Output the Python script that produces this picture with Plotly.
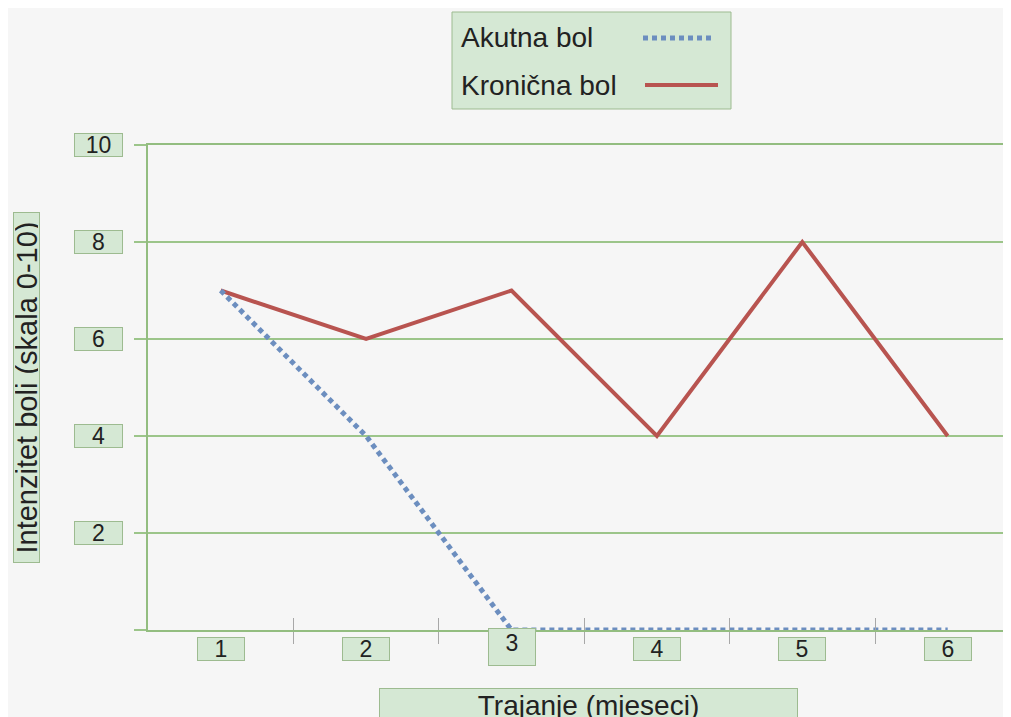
import plotly.graph_objects as go

# ---- data ----
months = [1, 2, 3, 4, 5, 6]
month_labels = ["1", "2", "3", "4", "5", "6"]
acute_pain = [7, 4, 0, 0, 0, 0]
chronic_pain = [7, 6, 7, 4, 8, 4]
y_tick_vals = [2, 4, 6, 8, 10]
y_tick_labels = ["2", "4", "6", "8", "10"]
x_boundaries = [1.5, 2.5, 3.5, 4.5, 5.5]
series_names = ["Akutna bol", "Kronična bol"]
x_title = "Trajanje (mjeseci)"
y_title = "Intenzitet boli (skala 0-10)"

# ---- style ----
BG = "#f6f6f6"
BOX_FILL = "#d5e8d4"
BOX_LINE = "#9dbb90"
GRID = "#9cc58a"
AXIS = "#93bd80"
RED = "#b85450"
BLUE = "#6c8ebf"
TXT = "#222222"
FONT = "Liberation Sans, Arial, sans-serif"

OFF = 8  # page body margin
W, H = 1011 - OFF, 717 - OFF
L, T = 148 - OFF, 145 - OFF
PLOT_BOTTOM = 630 - OFF
B = H - PLOT_BOTTOM
PW = W - L
PH = H - T - B


def px_x(px):
    return (px - OFF - L) / PW


def px_y(py):
    return (PLOT_BOTTOM - (py - OFF)) / PH


fig = go.Figure()
fig.add_trace(go.Scatter(
    x=months, y=chronic_pain, mode="lines", name=series_names[1],
    line=dict(color=RED, width=4), showlegend=False, cliponaxis=False))
fig.add_trace(go.Scatter(
    x=months, y=acute_pain, mode="lines", name=series_names[0],
    line=dict(color=BLUE, width=5, dash="5px,4px"), showlegend=False,
    cliponaxis=False))
# overlay axis for the inside half of the crossing ticks
fig.add_trace(go.Scatter(x=[months[0]], y=[0], xaxis="x2", mode="markers",
                         marker=dict(opacity=0), showlegend=False,
                         hoverinfo="skip"))

annotations = []
# y tick label boxes
for v, lab in zip(y_tick_vals, y_tick_labels):
    annotations.append(dict(
        x=0, xref="paper", y=v, yref="y", xanchor="right", yanchor="middle",
        xshift=-25, text=lab, showarrow=False, width=45, height=20,
        bgcolor=BOX_FILL, bordercolor=BOX_LINE, borderwidth=1, borderpad=1,
        font=dict(family=FONT, size=23, color=TXT)))
# x tick label boxes
for m, lab in zip(months, month_labels):
    tall = (lab == "3")
    annotations.append(dict(
        x=m, xref="x", y=0, yref="paper", xanchor="center", yanchor="top",
        yshift=2 if tall else -7, text=lab, showarrow=False, width=44,
        height=34 if tall else 20, valign="top" if tall else "middle",
        bgcolor=BOX_FILL, bordercolor=BOX_LINE, borderwidth=1, borderpad=1,
        font=dict(family=FONT, size=23, color=TXT)))
# axis titles
annotations.append(dict(
    x=px_x(588), xref="paper", y=0, yref="paper", xanchor="center",
    yanchor="top", yshift=-58, text=x_title, showarrow=False, width=415,
    height=34, valign="top", bgcolor=BOX_FILL, bordercolor=BOX_LINE,
    borderwidth=1, borderpad=1, font=dict(family=FONT, size=28, color=TXT)))
annotations.append(dict(
    x=px_x(26.5), xref="paper", y=px_y(387.5), yref="paper", xanchor="center",
    yanchor="middle", text=y_title, textangle=-90,
    showarrow=False, width=347, height=23, bgcolor=BOX_FILL,
    bordercolor=BOX_LINE, borderwidth=1, borderpad=1,
    font=dict(family=FONT, size=29, color=TXT)))
# custom legend texts
legend_y = [px_y(38), px_y(85)]
for name, ly in zip(series_names, legend_y):
    annotations.append(dict(
        x=px_x(459), xref="paper", y=ly, yref="paper", xanchor="left",
        yanchor="middle", text=name, showarrow=False,
        font=dict(family=FONT, size=28, color=TXT)))

shapes = [
    dict(type="rect", xref="paper", yref="paper", x0=px_x(452), x1=px_x(731),
         y0=px_y(109), y1=px_y(12), fillcolor=BOX_FILL,
         line=dict(color=BOX_LINE, width=1), layer="below"),
    dict(type="line", xref="paper", yref="paper", x0=px_x(643), x1=px_x(714),
         y0=legend_y[0], y1=legend_y[0],
         line=dict(color=BLUE, width=5, dash="5px,4px")),
    dict(type="line", xref="paper", yref="paper", x0=px_x(645), x1=px_x(718),
         y0=legend_y[1], y1=legend_y[1], line=dict(color=RED, width=4)),
]

XR = [0.5, 0.5 + (W - L) / 145.4]

fig.update_layout(
    width=W, height=H,
    margin=dict(l=L, r=0, t=T, b=B, pad=0),
    paper_bgcolor=BG, plot_bgcolor=BG,
    showlegend=False,
    font=dict(family=FONT, color=TXT),
    xaxis=dict(range=XR, showgrid=False, zeroline=False,
               showline=True, mirror=True, linecolor=AXIS, linewidth=2,
               tickmode="array", tickvals=x_boundaries, ticks="outside",
               ticklen=12, tickcolor="#a8a8a8", tickwidth=1,
               showticklabels=False),
    xaxis2=dict(overlaying="x", matches="x", range=XR,
                showgrid=False, zeroline=False, showline=False,
                tickmode="array", tickvals=x_boundaries, ticks="inside",
                ticklen=12, tickcolor="#a8a8a8", tickwidth=1,
                showticklabels=False, side="bottom", anchor="y"),
    yaxis=dict(range=[0, 10], dtick=2, tick0=0, showgrid=True,
               gridcolor=GRID, gridwidth=1.5, zeroline=False,
               showline=True, linecolor=AXIS, linewidth=2,
               ticks="outside", ticklen=12, tickcolor=GRID, tickwidth=1.5,
               showticklabels=False),
    annotations=annotations,
    shapes=shapes,
)

fig.write_html("out.html")
